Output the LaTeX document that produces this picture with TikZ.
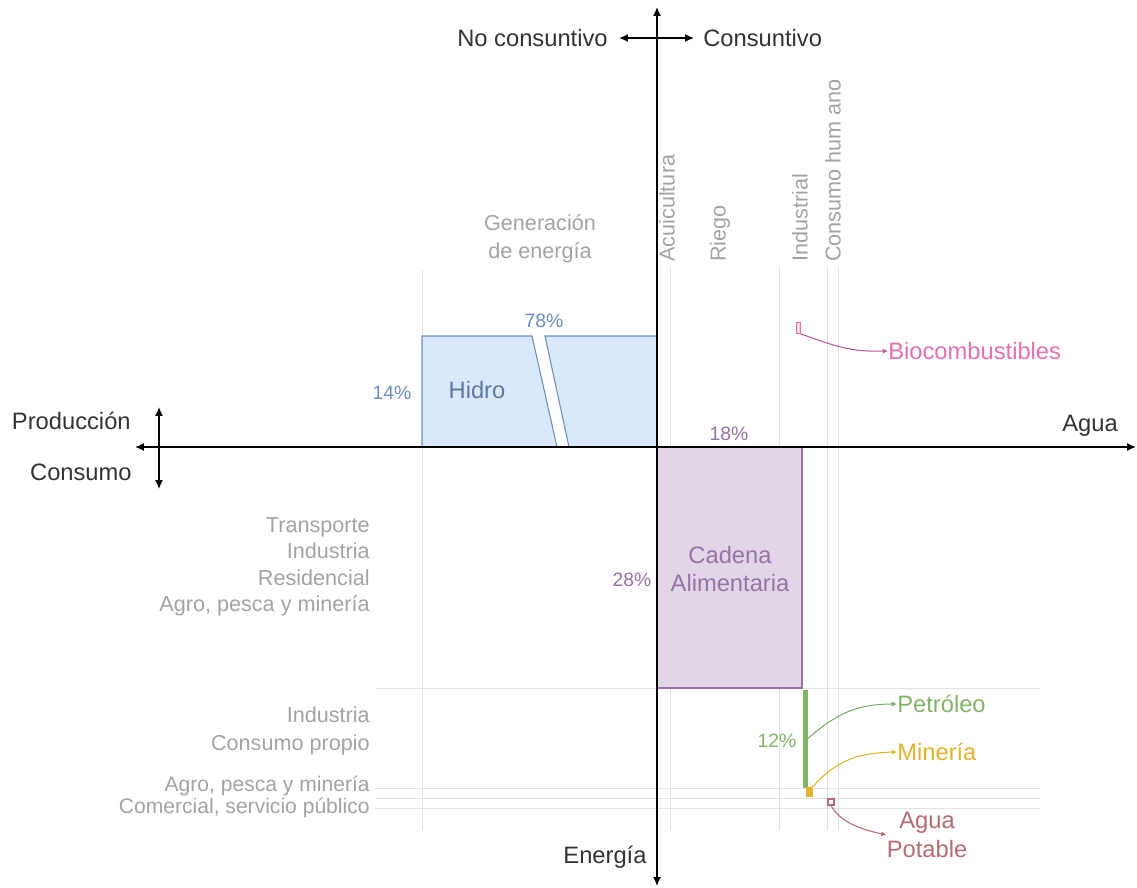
\documentclass[tikz,border=0pt]{standalone}
\usepackage{fontspec}
\setmainfont{Liberation Sans}
\usetikzlibrary{arrows.meta}
\definecolor{hblue}{HTML}{DAE8FC}
\definecolor{hbluel}{HTML}{6C8EBF}
\definecolor{cpur}{HTML}{E1D5E7}
\definecolor{cpurl}{HTML}{9673A6}
\definecolor{gtext}{HTML}{A3A3A3}
\definecolor{gline}{HTML}{E2E2E2}
\definecolor{pinkc}{HTML}{E36FB0}
\definecolor{greenc}{HTML}{82B366}
\definecolor{yellc}{HTML}{E2B22A}
\definecolor{redc}{HTML}{B56A74}
\newcommand{\bigf}{\fontsize{13.5pt}{16pt}\selectfont}
\newcommand{\grayf}{\fontsize{12.3pt}{15pt}\selectfont}
\newcommand{\pctf}{\fontsize{11pt}{13pt}\selectfont}
\tikzset{
  axis/.style={line width=0.8pt, black},
  tip/.style={-{Latex[length=5pt,width=4.5pt]}},
  tips/.style={{Latex[length=5pt,width=4.5pt]}-{Latex[length=5pt,width=4.5pt]}},
  gridl/.style={draw=gline, line width=0.5pt},
  lbl/.style={font=\bigf, inner sep=0pt, text=black!80},
  glbl/.style={font=\grayf, inner sep=0pt, text=gtext},
  pct/.style={font=\pctf, inner sep=0pt},
  vlbl/.style={font=\grayf, inner sep=0pt, text=gtext, rotate=90, anchor=west},
  conn/.style={line width=0.6pt, -{Latex[length=3pt,width=3pt]}},
}
\begin{document}
\begin{tikzpicture}[x=0.02cm,y=-0.02cm]
\useasboundingbox (0,0) rectangle (1137,887);
% grid lines
\draw[gridl] (422,270) -- (422,830);
\draw[gridl] (670,267) -- (670,830);
\draw[gridl] (779,267) -- (779,830);
\draw[gridl] (827,267) -- (827,830);
\draw[gridl] (838,267) -- (838,830);
\draw[gridl] (375,688) -- (1040,688);
\draw[gridl] (375,788) -- (1040,788);
\draw[gridl] (375,798) -- (1040,798);
\draw[gridl] (375,808) -- (1040,808);
% Hidro
\draw[fill=hblue, draw=hbluel, line width=0.6pt] (422,336) -- (532,336) -- (557,447) -- (422,447) -- cycle;
\draw[fill=hblue, draw=hbluel, line width=0.6pt] (545,336) -- (657,336) -- (657,447) -- (569,447) -- cycle;
\node[font=\bigf, text=hbluel!85!black, inner sep=0pt] (hidro) at (477,390) {Hidro};
\node[pct, text=hbluel] (p78) at (544,321) {78\%};
\node[pct, text=hbluel] (p14) at (392,393) {14\%};
% Cadena alimentaria
\draw[fill=cpur, draw=cpurl, line width=0.6pt] (657,447) rectangle (802,688);
\node[font=\bigf, text=cpurl, align=center, inner sep=0pt] (cadena) at (730,569) {Cadena\\Alimentaria};
\node[pct, text=cpurl] (p28) at (632,580) {28\%};
\node[pct, text=cpurl] (p18) at (729,434) {18\%};
% axes
\coordinate (xl) at (135,447); \coordinate (xr) at (1136,447);
\coordinate (yt) at (657,7); \coordinate (yb) at (657,886);
\draw[axis, tips] (xl) -- (xr);
\draw[axis, tips] (yt) -- (yb);
\coordinate (tl) at (619,38); \coordinate (tr) at (694,38);
\draw[axis, tips] (tl) -- (tr);
\coordinate (lt) at (159,407); \coordinate (lb) at (159,489);
\draw[axis, tips] (lt) -- (lb);
% axis labels
\node[lbl, anchor=east] (nocons) at (608,38) {No consuntivo};
\node[lbl, anchor=west] (cons) at (703,38) {Consuntivo};
\node[lbl, anchor=east] (prod) at (131,421) {Producción};
\node[lbl, anchor=east] (consumo) at (132,472) {Consumo};
\node[lbl] (agua) at (1090,426) {Agua};
\node[lbl] (energia) at (605,857) {Energía};
% category labels
\node[glbl, align=center, font=\fontsize{12.3pt}{16pt}\selectfont] (gen) at (540,239) {Generación\\de energía};
\node[vlbl] (acui) at (667,262) {Acuicultura};
\node[vlbl] (riego) at (720,262) {Riego};
\node[vlbl] (indus) at (800,262) {Industrial};
\node[vlbl] (humano) at (833,262) {Consumo hum ano};
\node[glbl, align=right, anchor=east, font=\fontsize{12.3pt}{15.1pt}\selectfont] (cons1) at (370,567) {Transporte\\Industria\\Residencial\\Agro, pesca y minería};
\node[glbl, align=right, anchor=east, font=\fontsize{12.3pt}{16pt}\selectfont] (cons2) at (370,731) {Industria\\Consumo propio};
\node[glbl, anchor=east, font=\fontsize{12pt}{14pt}\selectfont] (cons3) at (370,786) {Agro, pesca y minería};
\node[glbl, anchor=east, font=\fontsize{12pt}{14pt}\selectfont] (cons4) at (370,808) {Comercial, servicio público};
% Biocombustibles
\node[draw=pinkc, fill=pinkc!30, line width=0.6pt, minimum width=0.08cm, minimum height=0.22cm, inner sep=0pt] (bior) at (798.5,328) {};
\node[lbl, text=pinkc, anchor=west] (bio) at (888,351) {Biocombustibles};
\draw[conn, draw=pinkc!80!black] (bior.south east) .. controls (835,346) and (850,352) .. (bio.west);
% Petroleo
\node[draw=greenc, fill=greenc, minimum width=0.08cm, minimum height=1.94cm, inner sep=0pt] (petr) at (805.5,738.5) {};
\node[lbl, text=greenc, anchor=west] (petro) at (897,704) {Petróleo};
\node[pct, text=greenc] (p12) at (777,741) {12\%};
\draw[conn, draw=greenc!80!gray] (petr.east) .. controls (835,715) and (855,704) .. (petro.west);
% Mineria
\node[draw=yellc, fill=yellc, minimum width=0.12cm, minimum height=0.18cm, inner sep=0pt] (minr) at (809,792) {};
\node[lbl, text=yellc, anchor=west] (mine) at (897,752) {Minería};
\draw[conn, draw=yellc] (minr.north east) .. controls (835,762) and (855,753) .. (mine.west);
% Agua potable
\node[draw=redc, fill=white, line width=0.6pt, minimum width=0.12cm, minimum height=0.12cm, inner sep=0pt] (aguar) at (831,802) {};
\node[lbl, text=redc, align=center, font=\fontsize{13.5pt}{17pt}\selectfont] (aguap) at (927,835) {Agua\\Potable};
\draw[conn, draw=redc] (aguar.south) .. controls (840,822) and (860,829) .. (aguap.west);
\end{tikzpicture}
\end{document}
